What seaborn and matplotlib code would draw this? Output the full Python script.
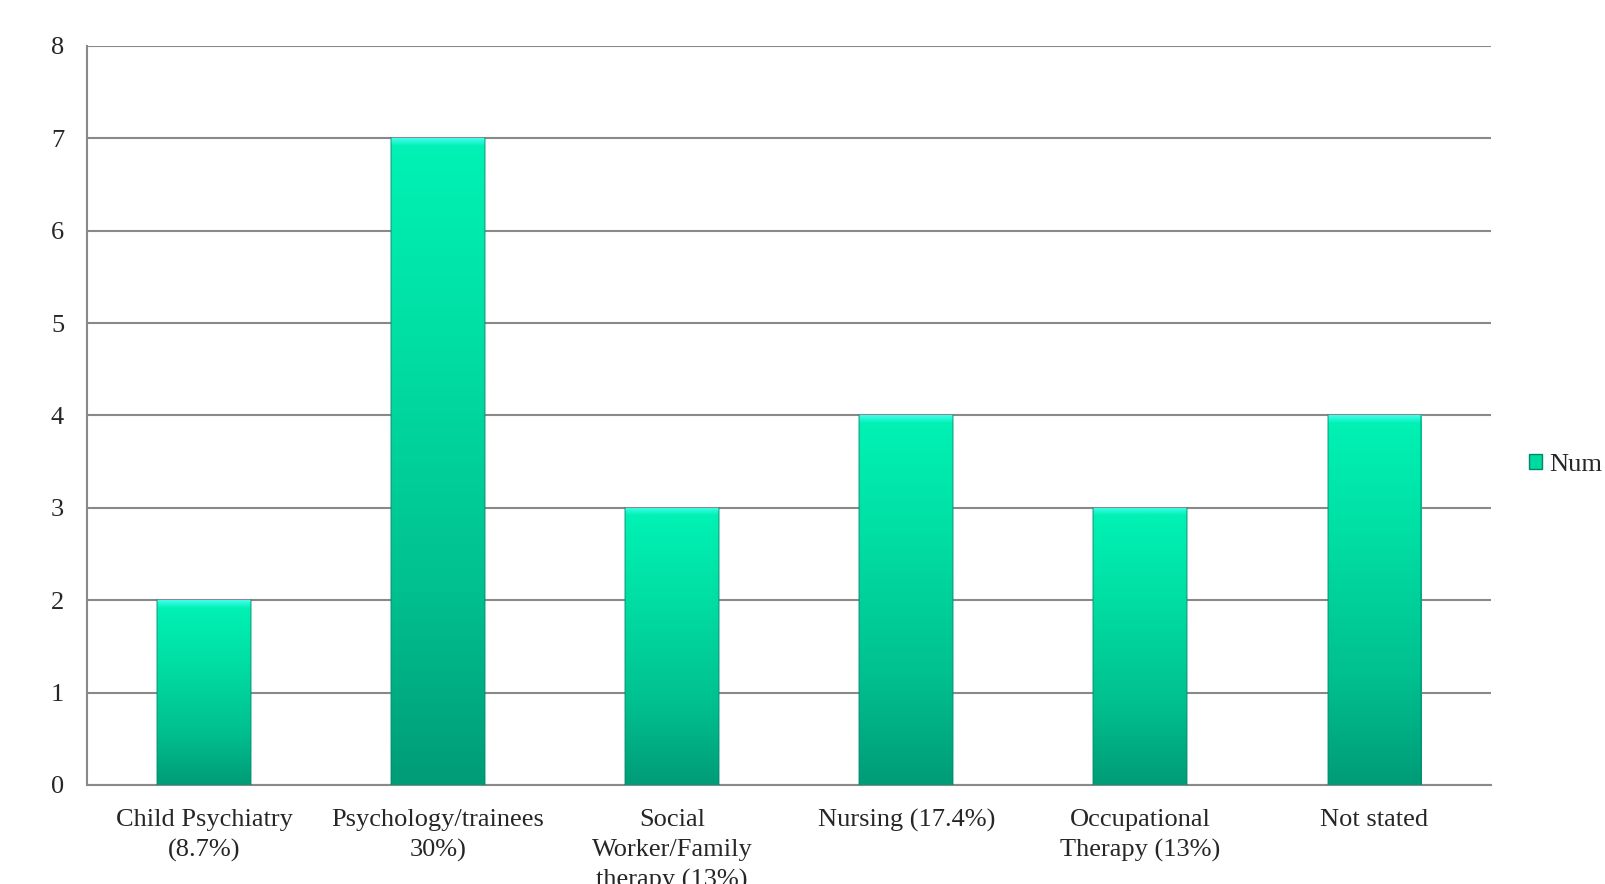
import numpy as np
import pandas as pd
import seaborn as sns
import matplotlib.pyplot as plt
from matplotlib.colors import LinearSegmentedColormap

categories = ["Child Psychiatry\n(8.7%)", "Psychology/trainees\n30%)",
              "Social\nWorker/Family\ntherapy (13%)", "Nursing (17.4%)",
              "Occupational\nTherapy (13%)", "Not stated"]
values = [2, 7, 3, 4, 3, 4]
series_name = "Num"

df = pd.DataFrame({"category": categories, "value": values})

sns.set_style("white")
plt.rcParams['font.family'] = ['Liberation Serif', 'DejaVu Serif']

fig = plt.figure(figsize=(16.05, 8.84), dpi=100)
ax = fig.add_axes([0.0542, 0.112, 0.875, 0.836])

sns.barplot(data=df, x="category", y="value", color="#00D9A0", width=0.4,
            ax=ax, zorder=3, label=series_name, edgecolor="none")

# vertical gradient on each bar, with a thin bright band at the top
body = LinearSegmentedColormap.from_list(
    "body", [(0.0, "#009C77"), (0.3, "#00C08F"), (0.7, "#00DFA4"), (1.0, "#00F2B4")])
cap = LinearSegmentedColormap.from_list("cap", ["#00F2B4", "#45FCEE"])
cap_h = 0.08
for p in ax.patches:
    x0, y0 = p.get_x(), p.get_y()
    w, h = p.get_width(), p.get_height()
    img = np.linspace(0, 1, 256).reshape(-1, 1)
    im = ax.imshow(img, cmap=body, origin="lower", aspect="auto",
                   extent=[x0, x0 + w, y0, y0 + h - cap_h], zorder=4)
    im.set_clip_path(p)
    im2 = ax.imshow(img, cmap=cap, origin="lower", aspect="auto",
                    extent=[x0, x0 + w, y0 + h - cap_h, y0 + h], zorder=4)
    im2.set_clip_path(p)
    # soft dark side edges
    ax.plot([x0, x0], [y0, y0 + h], color="#00876A", lw=1.2, alpha=0.5, zorder=5)
    ax.plot([x0 + w, x0 + w], [y0, y0 + h], color="#00876A", lw=1.2, alpha=0.5, zorder=5)

ax.set_xlim(-0.5, len(categories) - 0.5)
ax.set_ylim(0, 8)
ax.set_yticks(range(0, 9))
ax.yaxis.grid(True, color="#898989", lw=1.5, zorder=0)
ax.set_axisbelow(True)

# major ticks at category boundaries, labels at centres
ax.set_xticks(np.arange(-0.5, len(categories), 1.0))
ax.set_xticklabels([])
ax.set_xticks(range(len(categories)), minor=True)
ax.set_xticklabels(categories, minor=True, fontsize=19, linespacing=1.45)
ax.tick_params(axis="x", which="minor", length=0, pad=17.5)
ax.tick_params(axis="x", which="major", length=7, width=1.5, color="#898989", direction="out")
ax.tick_params(axis="y", length=7, width=1.5, color="#898989", direction="out",
               labelsize=19, pad=9.5)
ax.set_xlabel("")
ax.set_ylabel("")

for s in ["top", "right"]:
    ax.spines[s].set_visible(False)
for s in ["left", "bottom"]:
    ax.spines[s].set_color("#898989")
    ax.spines[s].set_linewidth(1.5)

leg = ax.legend(loc="center left", bbox_to_anchor=(1.01, 0.433), frameon=False,
                fontsize=19, handlelength=0.5, handleheight=0.5, handletextpad=0.25)
for h in leg.legend_handles:
    h.set_facecolor("#00D9A0")
    h.set_edgecolor("#008A6A")

fig.savefig("out.png", dpi=100)
